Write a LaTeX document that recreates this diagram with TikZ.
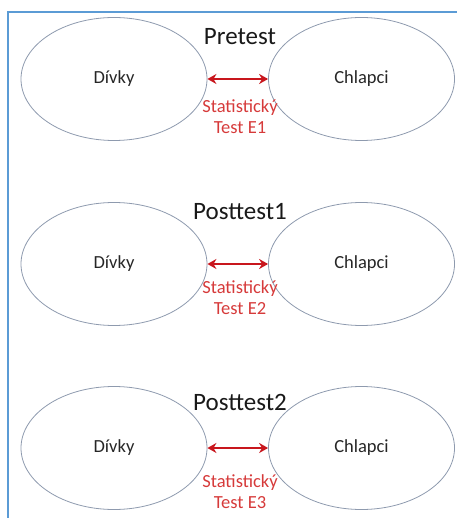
\documentclass[tikz,border=0pt]{standalone}
\usepackage{fontspec}
\setmainfont{Carlito}
\usetikzlibrary{shapes.geometric,arrows.meta}
\definecolor{frameblue}{HTML}{5B9BD5}
\definecolor{ringgray}{HTML}{8E9AAE}
\definecolor{testred}{HTML}{C8161D}
\definecolor{labelred}{HTML}{D63A3A}
\tikzset{
  group/.style={ellipse, draw=ringgray, line width=0.8pt, minimum width=186pt,
    minimum height=123pt, inner sep=0pt, font=\fontsize{18.5}{21}\selectfont, text=black!85},
  phase/.style={font=\fontsize{25}{28}\selectfont, text=black!90},
  testlabel/.style={font=\fontsize{18.5}{21}\selectfont, text=labelred, align=center},
  compare/.style={{Stealth[length=9pt,width=10pt]}-{Stealth[length=9pt,width=10pt]}, draw=testred, line width=2.3pt}
}
\begin{document}
\begin{tikzpicture}[x=1pt,y=-1pt]
\useasboundingbox (0,0) rectangle (456,518);
% outer frame
\draw[frameblue, line width=2pt] (460,12.5) -- (7.5,12.5) -- (7.5,522);

% Pretest
\node[phase] (p1) at (240,37) {Pretest};
\node[group] (d1) at (114,79) {Dívky};
\node[group] (c1) at (361.5,79) {Chlapci};
\draw[compare] (d1.east) -- (c1.west);
\node[testlabel] (t1) at (240,117) {Statistický\\Test E1};

% Posttest1
\node[phase] (p2) at (240,212) {Posttest1};
\node[group] (d2) at (114,264) {Dívky};
\node[group] (c2) at (361.5,264) {Chlapci};
\draw[compare] (d2.east) -- (c2.west);
\node[testlabel] (t2) at (240,298) {Statistický\\Test E2};

% Posttest2
\node[phase] (p3) at (240,402) {Posttest2};
\node[group] (d3) at (114,448) {Dívky};
\node[group] (c3) at (361.5,448) {Chlapci};
\draw[compare] (d3.east) -- (c3.west);
\node[testlabel] (t3) at (240,492) {Statistický\\Test E3};
\end{tikzpicture}
\end{document}
